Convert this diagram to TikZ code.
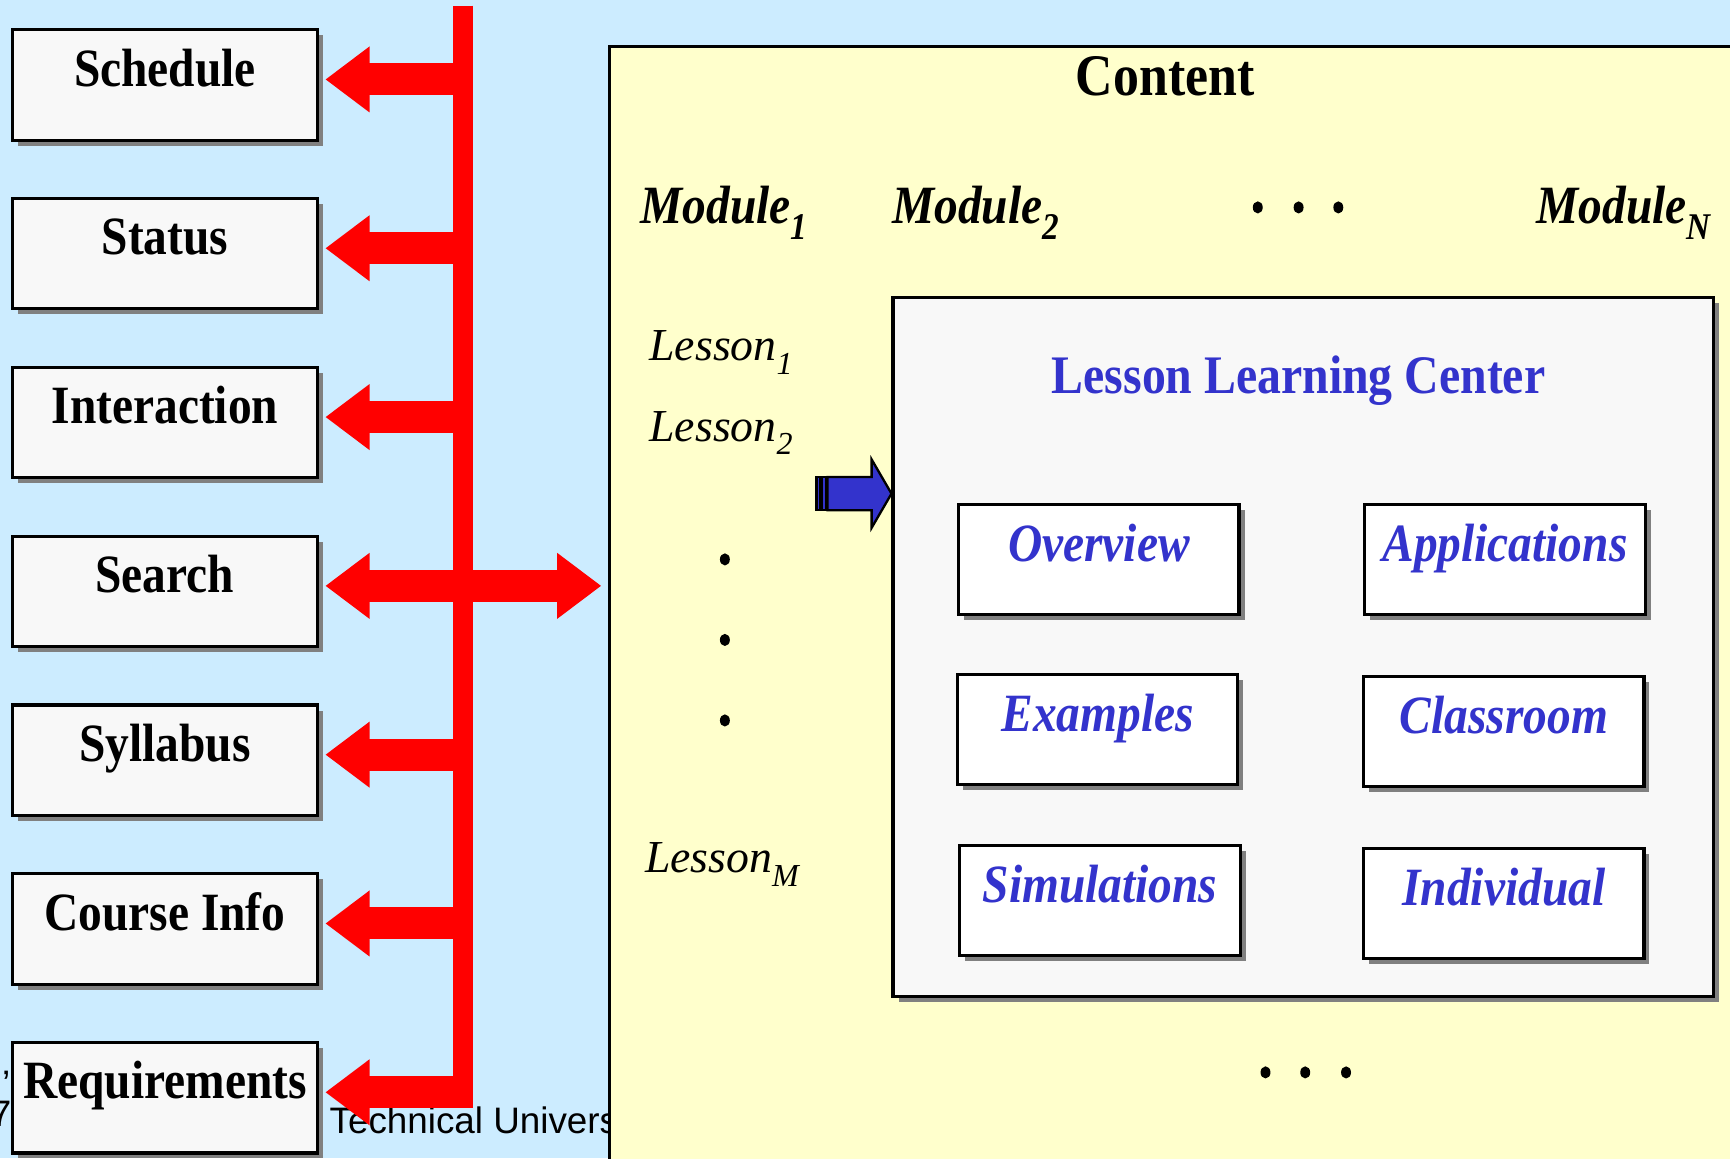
\documentclass[tikz,border=0pt]{standalone}
\usepackage{fontspec}
\setmainfont{Liberation Serif}
\newfontfamily\narrowserif[FakeStretch=0.88]{Liberation Serif}
\newfontfamily\footfont{Liberation Sans}
\usetikzlibrary{arrows.meta,shadows,positioning}
\definecolor{slideblue}{HTML}{CCECFF}
\definecolor{contentyellow}{HTML}{FFFFCC}
\definecolor{boxgray}{HTML}{F8F8F8}
\definecolor{shadowgray}{HTML}{808080}
\definecolor{labelblue}{HTML}{3333CC}
\newcommand{\lowsub}[1]{\raisebox{-0.3ex}{\textsubscript{#1}}}

\tikzset{
  boxshadow/.style={drop shadow={shadow xshift=0.5mm, shadow yshift=-0.5mm, fill=shadowgray, opacity=1}},
  menubox/.style={draw, line width=0.8pt, fill=boxgray, boxshadow, anchor=base,
    minimum width=27.6mm, text height=5.1mm, text depth=4.9mm, inner sep=0pt,
    font=\narrowserif\bfseries\fontsize{13.9}{16}\selectfont},
  partbox/.style={draw, line width=0.8pt, fill=white, boxshadow, anchor=base,
    minimum width=25.4mm, text height=5.2mm, text depth=4.8mm, inner sep=0pt,
    text=labelblue, font=\narrowserif\bfseries\itshape\fontsize{13.9}{16}\selectfont},
  redarrow/.style={draw=red, line width=2.9mm, -{Triangle[width=5.7mm,length=4mm]}},
  bluearrow/.style={draw, line width=0.6pt, fill=labelblue},
  modtext/.style={anchor=base west, inner sep=0pt, font=\narrowserif\bfseries\itshape\fontsize{13.9}{16}\selectfont},
  lessontext/.style={anchor=base west, inner sep=0pt, font=\itshape\fontsize{11.8}{14}\selectfont},
  foottext/.style={inner sep=0pt, font=\footfont\fontsize{9.5}{11}\selectfont}
}

\begin{document}
\begin{tikzpicture}[x=0.1mm,y=-0.1mm]
        \useasboundingbox (0,0) rectangle (1568,1050);
        \clip (0,0) rectangle (1568,1050);
        \fill[slideblue] (0,0) rectangle (1568,1050);
        \node[foottext, anchor=base west] (foot) at (298,1027) {Technical Univers};
        \node[foottext, anchor=base east, text height=1.6mm, text depth=0pt] (footq) at (10,994) {’};
        \node[foottext, anchor=base east, text height=2.2mm, text depth=0pt] (footn) at (11,1021) {7};
        \foreach \y/\txt/\nm in {78/Schedule/sched, 231/Status/stat, 384/Interaction/inter, 537/Search/search, 690/Syllabus/syll, 843/Course Info/info, 996/Requirements/req}
        {
        \node[menubox] (\nm) at (149.5,\y) {\txt};
        \coordinate (\nm-tip) at ([xshift=0.6mm,yshift=0.5mm]\nm.east);
        }
        \node[draw, line width=0.8pt, fill=contentyellow, anchor=north west, minimum width=110mm, minimum height=110mm] (content) at (551,41) {};
        \coordinate (bustop) at (420,5);
        \coordinate (busbot) at (420,1004.5);
        \draw[red, line width=1.8mm] (bustop) -- (busbot);
        \foreach \nm in {sched, stat, inter, syll, info, req}
        \draw[redarrow] (bustop |- \nm-tip) -- (\nm-tip);
        \path (search-tip -| content.west) ++(-0.6mm,0) coordinate (content-tip);
        \draw[redarrow, {Triangle[width=5.7mm,length=4mm]}-{Triangle[width=5.7mm,length=4mm]}] (search-tip) -- (content-tip);
        \node[anchor=base, inner sep=0pt, font=\narrowserif\bfseries\fontsize{15.2}{18}\selectfont] (title) at (1056,87) {Content};
        \node[modtext] (mod1) at (580,203) {Module\lowsub{1}};
        \node[modtext] (mod2) at (808,203) {Module\lowsub{2}};
        \node[modtext] (modn) at (1392,203) {Module\lowsub{N}};
        \node[lessontext] (les1) at (588,327) {Lesson\lowsub{1}};
        \node[lessontext] (les2) at (588,400) {Lesson\lowsub{2}};
        \node[lessontext] (lesm) at (584,791) {Lesson\lowsub{M}};
        \foreach \p in {(657,507), (657,580), (657,653), (1140,188), (1177,188), (1213,188), (1147,972), (1183,972), (1220,972)}
        \fill \p ellipse (0.45mm and 0.55mm);
        \node[draw, line width=0.8pt, fill=boxgray, boxshadow, anchor=north west, minimum width=74.4mm, minimum height=63.4mm] (llc) at (808,268) {};
        \node[anchor=base, inner sep=0pt, text=labelblue, font=\narrowserif\bfseries\fontsize{14}{16}\selectfont] (llctitle) at (1177,357) {Lesson Learning Center};
        \foreach \x/\y/\txt/\nm in {996/509/Overview/over, 1364/509/Applications/appl, 995/663/Examples/exam, 1363/665/Classroom/class, 997/818/Simulations/simul, 1363/821/Individual/indiv}
        \node[partbox] (\nm) at (\x,\y) {\txt};
        \path (llc.west) ++(0,-139) coordinate (btip);
        \draw[bluearrow] (btip) -- ++(-18,-31) -- ++(0,16) -- ++(-40,0) -- ++(0,30) -- ++(40,0) -- ++(0,16) -- cycle;
        \draw[bluearrow] (btip) ++(-68,-15) rectangle ++(3,30);
        \draw[bluearrow] (btip) ++(-63,-15) rectangle ++(4,30);
\end{tikzpicture}
\end{document}
